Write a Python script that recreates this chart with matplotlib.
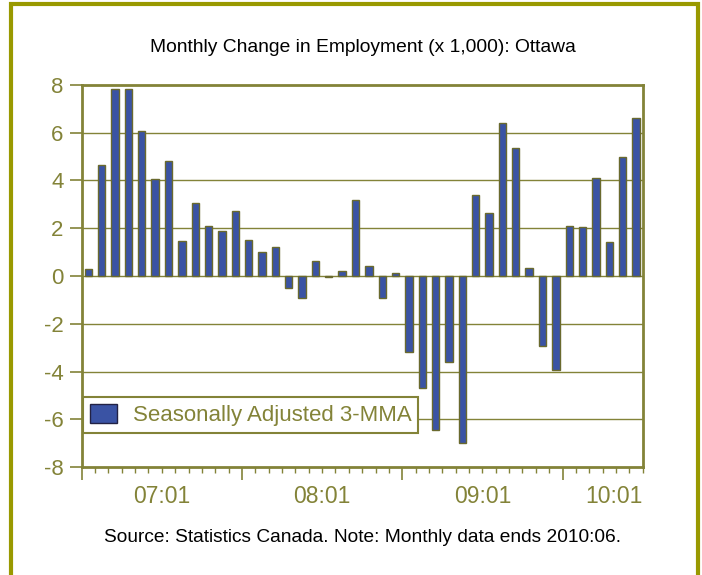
import matplotlib.pyplot as plt
from matplotlib.patches import Rectangle
import numpy as np

plt.rcParams['font.family'] = ['Liberation Sans', 'DejaVu Sans']
plt.rcParams['axes.unicode_minus'] = False

# monthly change in employment, 2007:01 .. 2010:06 (x 1,000)
values = [0.31, 4.63, 7.83, 7.83, 6.06, 4.07, 4.82, 1.48, 3.07, 2.08,
          1.90, 2.72, 1.52, 0.99, 1.23, -0.49, -0.91, 0.64, -0.03, 0.20,
          3.16, 0.42, -0.93, 0.13, -3.19, -4.67, -6.45, -3.58, -6.97, 3.37,
          2.65, 6.41, 5.34, 0.33, -2.91, -3.94, 2.09, 2.06, 4.11, 1.42,
          4.98, 6.59]
year_labels = ['07:01', '08:01', '09:01', '10:01']
series_name = 'Seasonally Adjusted 3-MMA'
title = 'Monthly Change in Employment (x 1,000): Ottawa'
source = 'Source: Statistics Canada. Note: Monthly data ends 2010:06.'

olive = '#838338'
frame_col = '#999900'
bar_col = '#3A53A4'
bar_edge = '#6A6A2E'

fig = plt.figure(figsize=(7.02, 5.75), dpi=100)
ax = fig.add_axes([0.1164, 0.1873, 0.7991, 0.6654])

n = len(values)
x = np.arange(n) + 0.5
ax.bar(x, values, width=0.55, color=bar_col, edgecolor=bar_edge,
       linewidth=1.0, label=series_name, zorder=3)

ax.set_xlim(0, n)
ax.set_ylim(-8, 8)
ax.set_yticks(range(-8, 9, 2))
for yv in range(-6, 8, 2):
    ax.axhline(yv, color=olive, lw=1.0, zorder=1)

# month ticks, longer ones at year starts
ax.set_xticks(range(0, n + 1, 12))
ax.set_xticks(range(0, n + 1), minor=True)
ax.set_xticklabels([])
ax.tick_params(axis='x', which='major', length=9, width=1.2, color=olive)
ax.tick_params(axis='x', which='minor', length=4, width=1.0, color=olive)
ax.tick_params(axis='y', length=9, width=1.2, color=olive,
               labelcolor=olive, labelsize=16, pad=4)
for s in ax.spines.values():
    s.set_color(olive)
    s.set_linewidth(2)

for i, lab in enumerate(year_labels):
    pos = 6 + 12 * i
    ha = 'center'
    if pos + 3 > n:
        pos, ha = n, 'right'
    ax.text(pos, -0.045, lab, transform=ax.get_xaxis_transform(), ha=ha,
            va='top', color=olive, fontsize=16.5)

leg = ax.legend(loc='lower left', bbox_to_anchor=(0.002, 0.0897),
                borderaxespad=0, fancybox=False, fontsize=16,
                handlelength=1.25, handleheight=0.95, handletextpad=0.7,
                borderpad=0.3, framealpha=1)
leg.get_frame().set_edgecolor(olive)
leg.get_frame().set_linewidth(1.5)
for t in leg.get_texts():
    t.set_color(olive)
leg.legend_handles[0].set_edgecolor('#222244')

fig.text(0.517, 1 - 47 / 575, title, ha='center', va='center',
         fontsize=13.9, color='black')
fig.text(0.517, 1 - 537 / 575, source, ha='center', va='center',
         fontsize=13.8, color='black')

fig.patches.append(Rectangle((11 / 702, -0.05), 687 / 702, 1.05 - 3.7 / 575,
                             transform=fig.transFigure, fill=False,
                             edgecolor=frame_col, linewidth=3))

fig.savefig('out.png', dpi=100)
